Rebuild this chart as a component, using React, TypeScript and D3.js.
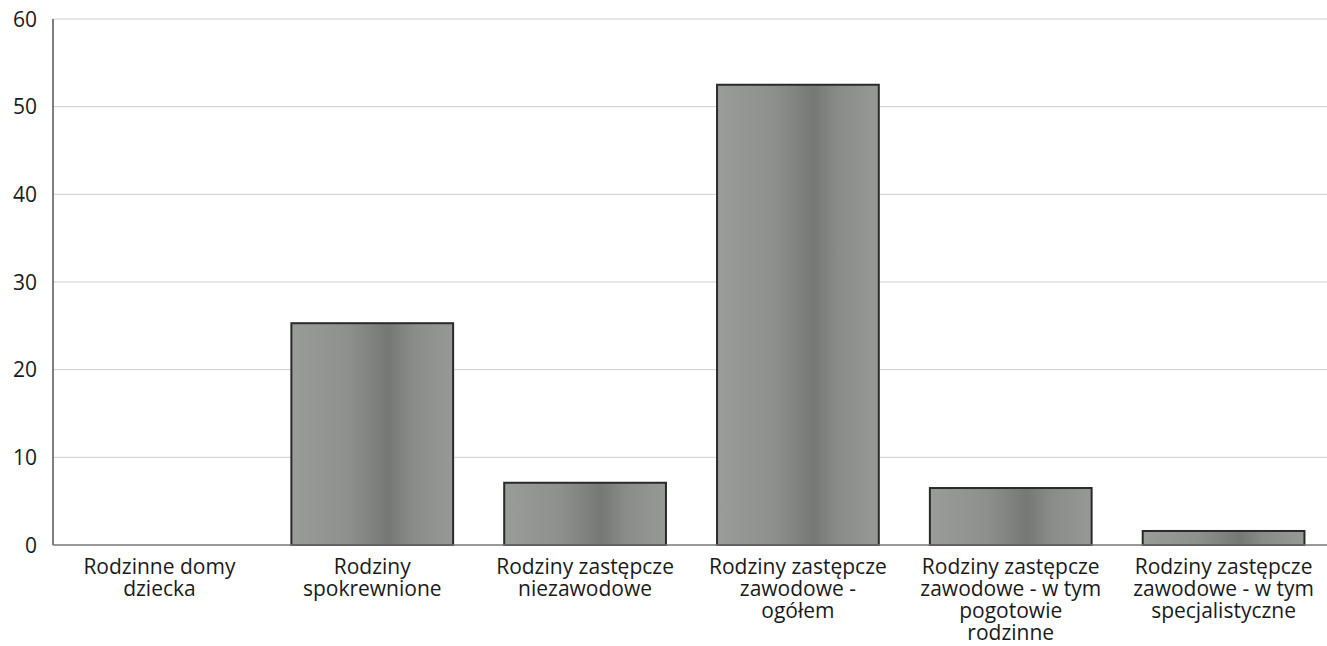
import React from "react";
import * as d3 from "d3";

const categories: string[][] = [
  ["Rodzinne domy", "dziecka"],
  ["Rodziny", "spokrewnione"],
  ["Rodziny zastępcze", "niezawodowe"],
  ["Rodziny zastępcze", "zawodowe -", "ogółem"],
  ["Rodziny zastępcze", "zawodowe - w tym", "pogotowie", "rodzinne"],
  ["Rodziny zastępcze", "zawodowe - w tym", "specjalistyczne"],
];
const values: number[] = [0, 25.3, 7.1, 52.5, 6.5, 1.6];
const yTicks: number[] = [0, 10, 20, 30, 40, 50, 60];

const W = 1327;
const H = 646;
const m = { left: 53, right: -3, top: 19, bottom: 101 };

export default function App() {
  const x = d3
    .scaleBand<number>()
    .domain(values.map((_, i) => i))
    .range([m.left, W - m.right])
    .paddingInner(0.24)
    .paddingOuter(0.12);
  const y = d3.scaleLinear().domain([0, 60]).range([H - m.bottom, m.top]);
  const font = "'Open Sans', 'Noto Sans', sans-serif";
  return (
    <svg
      width={W}
      height={H}
      style={{ position: "absolute", left: 0, top: 0, background: "#fff" }}
    >
      <defs>
        <linearGradient id="barg" x1="0" x2="1" y1="0" y2="0">
          <stop offset="0" stopColor="#9a9c9a" />
          <stop offset="0.35" stopColor="#8e908e" />
          <stop offset="0.6" stopColor="#767876" />
          <stop offset="0.75" stopColor="#8a8c8a" />
          <stop offset="1" stopColor="#979997" />
        </linearGradient>
      </defs>
      {yTicks.map((t) => (
        <g key={t}>
          {t > 0 && (
            <line
              x1={m.left}
              x2={W}
              y1={y(t)}
              y2={y(t)}
              stroke="#cdcdcd"
              strokeWidth={1}
            />
          )}
          <text
            x={37}
            y={y(t)}
            dy="0.36em"
            textAnchor="end"
            fontFamily={font}
            fontSize={21}
            fill="#1a1a1a"
          >
            {t}
          </text>
        </g>
      ))}
      <line
        x1={m.left}
        x2={m.left}
        y1={y(60)}
        y2={y(0)}
        stroke="#555"
        strokeWidth={1.5}
      />
      {values.map((v, i) =>
        v > 0 ? (
          <rect
            key={i}
            x={x(i)!}
            y={y(v)}
            width={x.bandwidth()}
            height={y(0) - y(v)}
            fill="url(#barg)"
            stroke="#2a2a2a"
            strokeWidth={2}
          />
        ) : null
      )}
      <line
        x1={m.left}
        x2={W}
        y1={y(0)}
        y2={y(0)}
        stroke="#777"
        strokeWidth={1.5}
      />
      {categories.map((lines, i) => (
        <text
          key={i}
          x={x(i)! + x.bandwidth() / 2}
          y={y(0) + 29}
          textAnchor="middle"
          fontFamily={font}
          fontSize={21}
          fill="#1a1a1a"
        >
          {lines.map((l, j) => (
            <tspan key={j} x={x(i)! + x.bandwidth() / 2} dy={j === 0 ? 0 : 22}>
              {l}
            </tspan>
          ))}
        </text>
      ))}
    </svg>
  );
}
